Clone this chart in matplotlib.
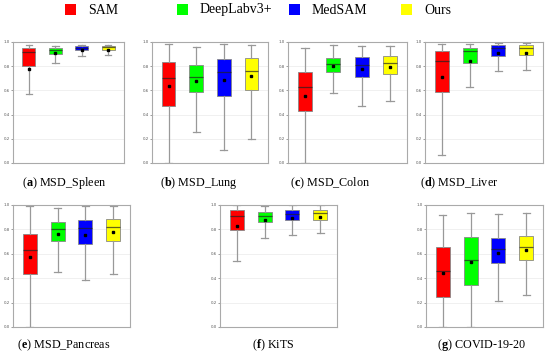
import matplotlib
matplotlib.use('Agg')
import matplotlib.pyplot as plt
from matplotlib.patches import Rectangle

plt.rcParams['mathtext.fontset'] = 'custom'
plt.rcParams['mathtext.bf'] = 'Liberation Serif:bold'

methods = ['SAM', 'DeepLabv3+', 'MedSAM', 'Ours']
colors = ['#ff0000', '#00ff00', '#0000ff', '#ffff00']

titles = ['MSD_Spleen', 'MSD_Lung', 'MSD_Colon', 'MSD_Liver',
          'MSD_Pancreas', 'KiTS', 'COVID-19-20']
letters = ['a', 'b', 'c', 'd', 'e', 'f', 'g']

# per dataset, per method: [whislo, q1, med, q3, whishi, mean]
spleen = [[0.567, 0.799, 0.917, 0.953, 0.978, 0.774],
          [0.829, 0.904, 0.937, 0.950, 0.970, 0.909],
          [0.887, 0.937, 0.953, 0.967, 0.978, 0.931],
          [0.893, 0.937, 0.956, 0.970, 0.978, 0.934]]
lung = [[0.003, 0.471, 0.700, 0.831, 0.983, 0.637],
        [0.258, 0.590, 0.709, 0.812, 0.958, 0.681],
        [0.108, 0.557, 0.751, 0.859, 0.980, 0.687],
        [0.202, 0.604, 0.762, 0.870, 0.978, 0.715]]
colon = [[0.000, 0.433, 0.628, 0.752, 0.953, 0.551],
         [0.579, 0.755, 0.821, 0.870, 0.972, 0.802],
         [0.474, 0.713, 0.810, 0.876, 0.964, 0.774],
         [0.512, 0.738, 0.824, 0.884, 0.970, 0.793]]
liver = [[0.069, 0.584, 0.846, 0.923, 0.986, 0.711],
         [0.631, 0.824, 0.926, 0.953, 0.986, 0.840],
         [0.758, 0.887, 0.953, 0.972, 0.992, 0.909],
         [0.769, 0.893, 0.953, 0.972, 0.989, 0.912]]
pancreas = [[0.000, 0.432, 0.632, 0.759, 0.989, 0.571],
            [0.452, 0.701, 0.806, 0.864, 0.975, 0.759],
            [0.388, 0.684, 0.809, 0.878, 0.989, 0.753],
            [0.438, 0.706, 0.823, 0.889, 0.989, 0.776]]
kits = [[0.537, 0.792, 0.911, 0.958, 0.997, 0.828],
        [0.731, 0.861, 0.911, 0.945, 0.989, 0.881],
        [0.753, 0.873, 0.928, 0.956, 0.997, 0.895],
        [0.767, 0.881, 0.931, 0.956, 0.997, 0.903]]
covid = [[0.000, 0.249, 0.460, 0.657, 0.914, 0.446],
         [0.000, 0.346, 0.551, 0.740, 0.934, 0.535],
         [0.213, 0.521, 0.637, 0.729, 0.928, 0.607],
         [0.266, 0.551, 0.654, 0.742, 0.934, 0.632]]
all_data = [spleen, lung, colon, liver, pancreas, kits, covid]

# axes rectangles in pixels: left, right, top, bottom
W, H = 550, 357
boxes_px = [(13, 124, 42, 163), (152, 268, 42, 163), (288, 407, 42, 163), (425, 543, 42, 163),
            (13, 130, 205, 327), (220, 337, 205, 327), (426, 543, 205, 327)]

fig = plt.figure(figsize=(5.5, 3.57), dpi=100)

for i, data in enumerate(all_data):
    l, r, t, b = boxes_px[i]
    ax = fig.add_axes([l / W, 1 - b / H, (r - l) / W, (b - t) / H])
    stats = []
    for row in data:
        stats.append({'whislo': row[0], 'q1': row[1], 'med': row[2],
                      'q3': row[3], 'whishi': row[4], 'mean': row[5]})
    bp = ax.bxp(stats, positions=[1, 2, 3, 4], widths=0.5, patch_artist=True,
                showmeans=True, showfliers=False,
                boxprops=dict(edgecolor='#888888', linewidth=0.6),
                whiskerprops=dict(color='#999999', linewidth=0.9),
                capprops=dict(color='#999999', linewidth=0.9),
                medianprops=dict(color='#222222', linewidth=0.9, alpha=0.7),
                meanprops=dict(marker='s', markerfacecolor='black',
                               markeredgecolor='black', markersize=1.6))
    for patch, c in zip(bp['boxes'], colors):
        patch.set_facecolor(c)
    ax.set_ylim(0, 1.0)
    ax.set_xlim(0.4, 4.6)
    ax.set_yticks([0.0, 0.2, 0.4, 0.6, 0.8, 1.0])
    ax.set_yticklabels(['0.0', '0.2', '0.4', '0.6', '0.8', '1.0'])
    ax.set_xticks([])
    ax.tick_params(axis='y', labelsize=2.8, colors='#555555', length=1.5, width=0.4, pad=1)
    ax.yaxis.grid(True, color='#eeeeee', linewidth=0.6)
    ax.set_axisbelow(True)
    for s in ax.spines.values():
        s.set_color('#aaaaaa')
        s.set_linewidth(0.8)

# captions
cap_pos = [(64, 183), (199, 183), (330, 183), (459, 183),
           (64, 345), (273, 345), (482, 345)]
for i, (x, y) in enumerate(cap_pos):
    fig.text(x / W, 1 - y / H, '(' + r'$\mathbf{' + letters[i] + '}$' + ') ' + titles[i],
             ha='center', va='center', fontsize=8.7, family='Liberation Serif')

# legend, evenly spaced entries
for i, (name, c) in enumerate(zip(methods, colors)):
    x0 = 65 + 112 * i
    fig.patches.append(Rectangle((x0 / W, 1 - 15 / H), 11 / W, 11 / H, facecolor=c,
                                 edgecolor='none', transform=fig.transFigure, figure=fig))
    fig.text((x0 + 23) / W, 1 - 10 / H, name, ha='left', va='center',
             fontsize=10, family='Liberation Serif')

fig.savefig('out.png', dpi=100)
